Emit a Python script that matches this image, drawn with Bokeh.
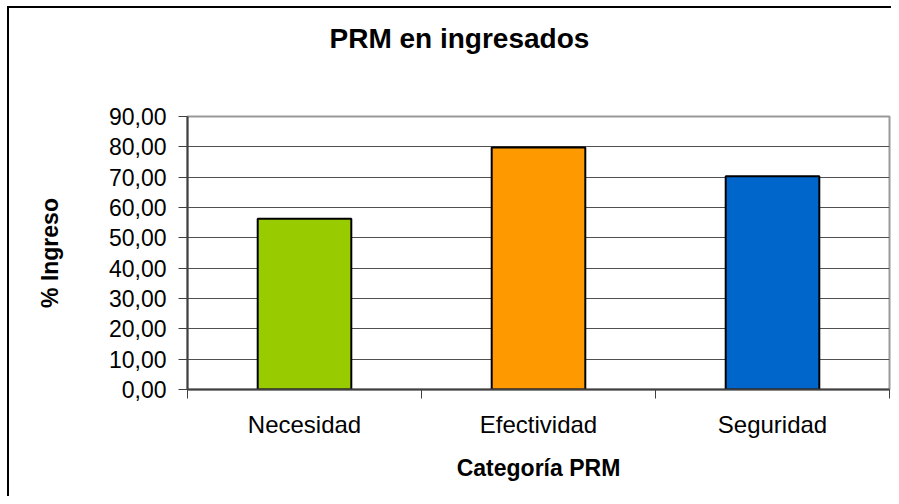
from bokeh.plotting import figure
from bokeh.models import FixedTicker, Range1d, ColumnDataSource, Title
from bokeh.embed import file_html
from bokeh.resources import INLINE

title_text = "PRM en ingresados"
categories = ["Necesidad", "Efectividad", "Seguridad"]
values = [56.3, 79.8, 70.3]
colors = ["#99CC00", "#FF9900", "#0066CC"]
y_ticks = [0, 10, 20, 30, 40, 50, 60, 70, 80, 90]

centers = [i + 0.5 for i in range(len(categories))]
bounds = list(range(len(categories) + 1))

src = ColumnDataSource(dict(x=centers, top=values, color=colors, cat=categories))

FONT = "Liberation Sans"

p = figure(width=891, height=496, output_backend="svg", toolbar_location=None,
           x_range=Range1d(0, len(categories)), y_range=Range1d(y_ticks[0], y_ticks[-1]),
           min_border_left=187, min_border_right=2, min_border_top=116, min_border_bottom=107)
p.border_fill_color = None
p.styles = {
    "background": "linear-gradient(black, black) 7px 6px / 2px 100% no-repeat, "
                  "linear-gradient(black, black) 7px 6px / 100% 2px no-repeat, white"
}

# spacer (closest to frame) then the real title further out
p.add_layout(Title(text=" ", text_font_size="2px", standoff=57), "above")
p.add_layout(Title(text=title_text, text_font=FONT, text_font_size="28px",
                   text_font_style="bold", text_color="black", align="left",
                   offset=142, vertical_align="top", standoff=0), "above")

p.vbar(x="x", top="top", bottom=0, width=0.40, fill_color="color",
       line_color="black", line_width=2, source=src)

p.outline_line_color = "#999999"
p.outline_line_width = 2
p.background_fill_color = "white"

# x axis
p.xaxis.ticker = FixedTicker(ticks=centers, minor_ticks=bounds)
p.xaxis.major_label_overrides = {c: n for c, n in zip(centers, categories)}
p.xaxis.major_tick_out = 0
p.xaxis.major_tick_in = 0
p.xaxis.minor_tick_out = 9
p.xaxis.minor_tick_in = 0
p.xaxis.minor_tick_line_color = "#404040"
p.xaxis.minor_tick_line_width = 1
p.xaxis.axis_line_color = "#404040"
p.xaxis.axis_line_width = 2
p.xaxis.major_label_standoff = 12
p.xaxis.major_label_text_font = FONT
p.xaxis.major_label_text_font_size = "24px"
p.xaxis.major_label_text_color = "black"
p.xaxis.axis_label = "Categoría PRM"
p.xaxis.axis_label_text_font = FONT
p.xaxis.axis_label_text_font_size = "23px"
p.xaxis.axis_label_text_font_style = "bold"
p.xaxis.axis_label_text_color = "black"
p.xaxis.axis_label_standoff = 14
p.xgrid.grid_line_color = None

# y axis
p.yaxis.ticker = FixedTicker(ticks=y_ticks, minor_ticks=[])
p.yaxis.major_label_overrides = {t: f"{t:.2f}".replace(".", ",") for t in y_ticks}
p.yaxis.major_tick_out = 9
p.yaxis.major_tick_in = 0
p.yaxis.major_tick_line_color = "#404040"
p.yaxis.axis_line_color = "#404040"
p.yaxis.axis_line_width = 2
p.yaxis.major_label_standoff = 12
p.yaxis.major_label_text_font = FONT
p.yaxis.major_label_text_font_size = "23px"
p.yaxis.major_label_text_color = "black"
p.yaxis.axis_label = "% Ingreso"
p.yaxis.axis_label_text_font = FONT
p.yaxis.axis_label_text_font_size = "23px"
p.yaxis.axis_label_text_font_style = "bold"
p.yaxis.axis_label_text_color = "black"
p.yaxis.axis_label_standoff = 43
p.ygrid.grid_line_color = "#505050"
p.ygrid.grid_line_width = 1

open("out.html", "w").write(file_html(p, INLINE))
